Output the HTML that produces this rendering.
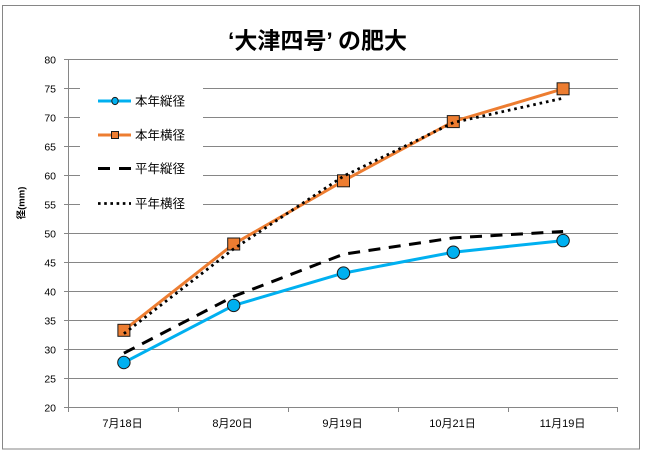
<!DOCTYPE html>
<html>
<head>
<meta charset="utf-8">
<style>
html,body{margin:0;padding:0;background:#fff;}
svg{display:block;}
text{font-family:"Liberation Sans","Noto Sans CJK JP",sans-serif;fill:#000;}
</style>
</head>
<body>
<svg width="645" height="454" viewBox="0 0 645 454" xmlns="http://www.w3.org/2000/svg">
<rect x="0" y="0" width="645" height="454" fill="#fff"/>
<rect x="2.5" y="5.5" width="637" height="443.5" fill="none" stroke="#868686" stroke-width="1"/>

<text x="317.5" y="48.5" font-size="23" font-weight="bold" text-anchor="middle">‘大津四号’ の肥大</text>

<g stroke="#868686" stroke-width="1" fill="none">
<line x1="64" y1="59.5" x2="618" y2="59.5"/>
<line x1="64" y1="88.5" x2="618" y2="88.5"/>
<line x1="64" y1="117.5" x2="618" y2="117.5"/>
<line x1="64" y1="146.5" x2="618" y2="146.5"/>
<line x1="64" y1="175.5" x2="618" y2="175.5"/>
<line x1="64" y1="204.5" x2="618" y2="204.5"/>
<line x1="64" y1="233.5" x2="618" y2="233.5"/>
<line x1="64" y1="262.5" x2="618" y2="262.5"/>
<line x1="64" y1="291.5" x2="618" y2="291.5"/>
<line x1="64" y1="320.5" x2="618" y2="320.5"/>
<line x1="64" y1="349.5" x2="618" y2="349.5"/>
<line x1="64" y1="378.5" x2="618" y2="378.5"/>
<line x1="64" y1="407.5" x2="618" y2="407.5"/>
<line x1="68.5" y1="59" x2="68.5" y2="407.5"/>
<line x1="68.5" y1="407" x2="68.5" y2="412"/>
<line x1="178.5" y1="407" x2="178.5" y2="412"/>
<line x1="288.5" y1="407" x2="288.5" y2="412"/>
<line x1="398.5" y1="407" x2="398.5" y2="412"/>
<line x1="508.5" y1="407" x2="508.5" y2="412"/>
<line x1="617.5" y1="407" x2="617.5" y2="412"/>
</g>

<g font-size="10.5" text-anchor="end">
<text x="56" y="63.3">80</text>
<text x="56" y="92.3">75</text>
<text x="56" y="121.3">70</text>
<text x="56" y="150.3">65</text>
<text x="56" y="179.3">60</text>
<text x="56" y="208.3">55</text>
<text x="56" y="237.3">50</text>
<text x="56" y="266.3">45</text>
<text x="56" y="295.3">40</text>
<text x="56" y="324.3">35</text>
<text x="56" y="353.3">30</text>
<text x="56" y="382.3">25</text>
<text x="56" y="411.3">20</text>
</g>

<g font-size="11" text-anchor="middle">
<text x="122.5" y="427">7月18日</text>
<text x="232.5" y="427">8月20日</text>
<text x="342.5" y="427">9月19日</text>
<text x="452.5" y="427">10月21日</text>
<text x="562.5" y="427">11月19日</text>
</g>

<text transform="translate(24.5,203) rotate(-90)" font-size="9.5" font-weight="bold" text-anchor="middle">径(mm)</text>

<!-- Legend box -->
<rect x="80" y="72" width="123" height="145" fill="#fff"/>

<!-- Series 1: 本年縦径 (blue) -->
<polyline points="123.9,362.5 233.7,305.4 343.5,273.1 453.3,252.2 563.1,240.6" fill="none" stroke="#00B0F0" stroke-width="3" stroke-linejoin="round"/>
<g fill="#00B0F0" stroke="#1a1a1a" stroke-width="1">
<circle cx="123.9" cy="362.5" r="6.2"/>
<circle cx="233.7" cy="305.4" r="6.2"/>
<circle cx="343.5" cy="273.1" r="6.2"/>
<circle cx="453.3" cy="252.2" r="6.2"/>
<circle cx="563.1" cy="240.6" r="6.2"/>
</g>

<!-- Series 2: 本年横径 (orange) -->
<polyline points="123.9,330.3 233.7,244 343.5,180.8 453.3,121.6 563.1,88.8" fill="none" stroke="#ED7D31" stroke-width="3" stroke-linejoin="round"/>
<g fill="#ED7D31" stroke="#1a1a1a" stroke-width="1">
<rect x="117.9" y="324.3" width="12" height="12"/>
<rect x="227.7" y="238" width="12" height="12"/>
<rect x="337.5" y="174.8" width="12" height="12"/>
<rect x="447.3" y="115.6" width="12" height="12"/>
<rect x="557.1" y="82.8" width="12" height="12"/>
</g>

<!-- Series 3: 平年縦径 (dashed) -->
<polyline points="123.9,353.2 233.7,296.4 343.5,254.2 453.3,237.9 563.1,231.5" fill="none" stroke="#000" stroke-width="3" stroke-dasharray="12 8.5"/>

<!-- Series 4: 平年横径 (dotted) -->
<polyline points="123.9,333.7 233.7,248.9 343.5,176.2 453.3,122.6 563.1,98.2" fill="none" stroke="#000" stroke-width="2.8" stroke-dasharray="2.6 3.9"/>

<!-- Legend entries -->
<line x1="98" y1="101" x2="131" y2="101" stroke="#00B0F0" stroke-width="3"/>
<ellipse cx="115" cy="101" rx="3.2" ry="3.6" fill="#00B0F0" stroke="#1a1a1a" stroke-width="1"/>
<text x="135" y="105.5" font-size="12.5">本年縦径</text>

<line x1="98" y1="135" x2="131" y2="135" stroke="#ED7D31" stroke-width="3"/>
<rect x="111.5" y="131.5" width="7" height="7" fill="#ED7D31" stroke="#1a1a1a" stroke-width="1"/>
<text x="135" y="139.5" font-size="12.5">本年横径</text>

<line x1="98" y1="168.5" x2="131" y2="168.5" stroke="#000" stroke-width="3" stroke-dasharray="12 9"/>
<text x="135" y="173" font-size="12.5">平年縦径</text>

<line x1="98" y1="203.5" x2="131" y2="203.5" stroke="#000" stroke-width="2.8" stroke-dasharray="2.6 3.6"/>
<text x="135" y="208" font-size="12.5">平年横径</text>
</svg>
</body>
</html>
